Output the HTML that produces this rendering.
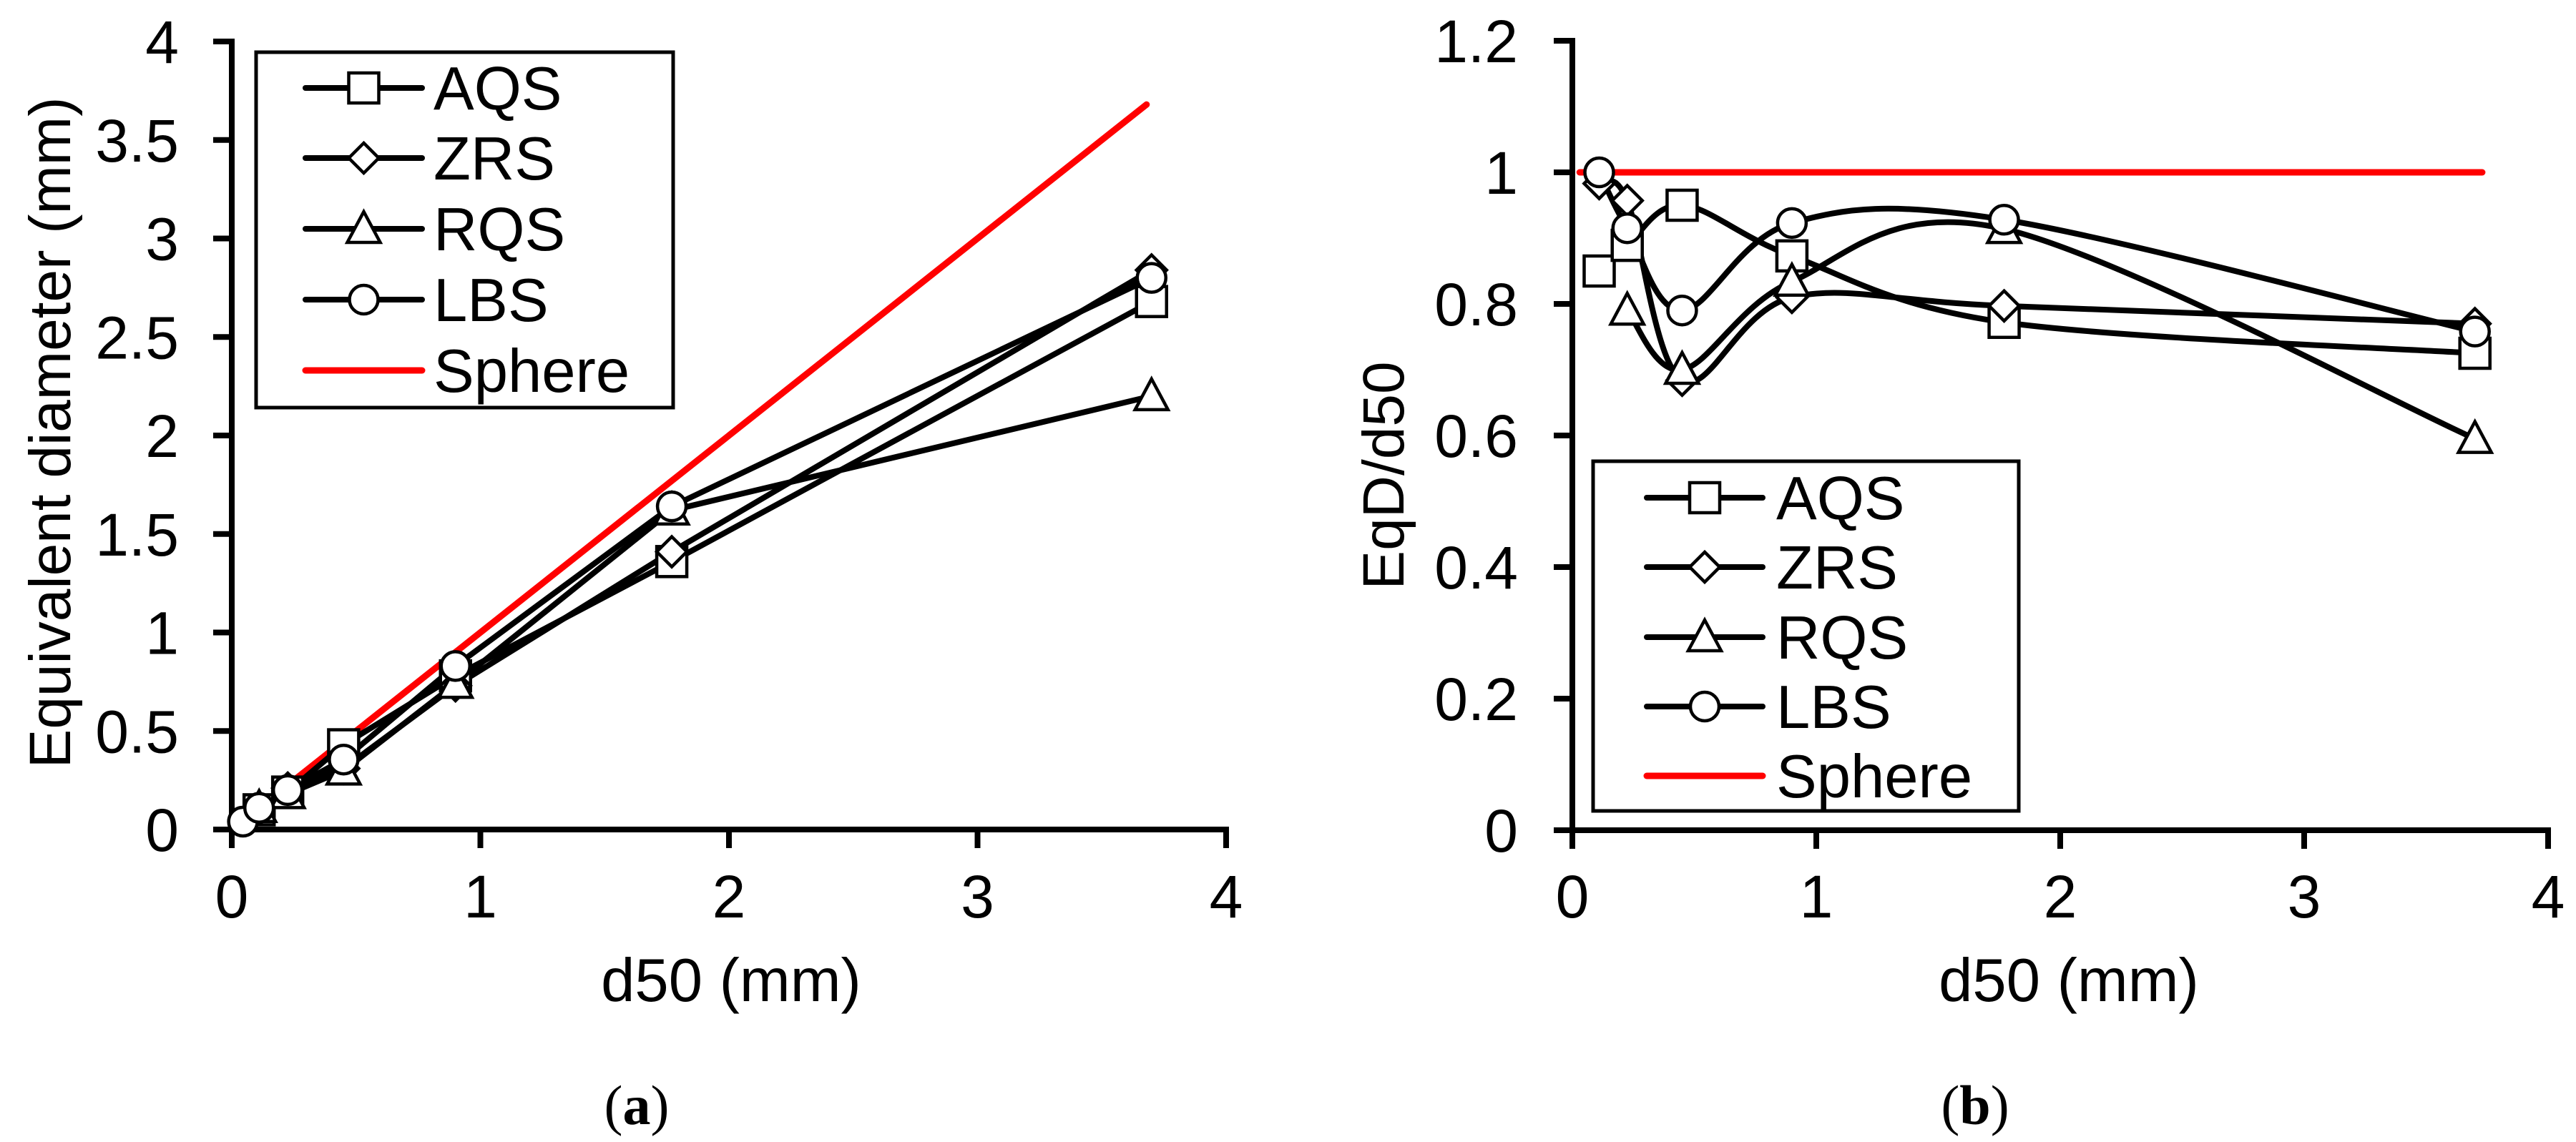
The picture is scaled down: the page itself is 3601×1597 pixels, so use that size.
<!DOCTYPE html>
<html><head><meta charset="utf-8"><style>
html,body{margin:0;padding:0;background:#fff;}
svg{display:block;font-family:"Liberation Sans",Arial,sans-serif;}
</style></head><body>
<svg id="fig" width="3601" height="1597" viewBox="0 0 3601 1597" xmlns="http://www.w3.org/2000/svg">
<rect width="3601" height="1597" fill="#fff"/>
<g id="chartA"></g>
<g id="chartB"></g>
</svg>
<script>
// ---- data (chart a) ----
const dA = [0.045, 0.11, 0.225, 0.45, 0.9, 1.77, 3.7];
const aqsA = [null, 0.1, 0.19, 0.43, 0.78, 1.36, 2.68];
const zrsA = [null, 0.11, 0.21, 0.31, 0.73, 1.41, 2.84];
const rqsA = [null, 0.11, 0.18, 0.30, 0.74, 1.62, 2.2];
const lbsA = [0.04, 0.11, 0.2, 0.355, 0.83, 1.64, 2.8];
const sphereAx = [0.045, 3.68];
const sphereAy = [0.045, 3.68];
const xTicksA = ["0","1","2","3","4"];
const yTicksA = ["0","0.5","1","1.5","2","2.5","3","3.5","4"];
// ---- data (chart b) ----
const dB = [0.11, 0.225, 0.45, 0.9, 1.77, 3.7];
const aqsB = [0.85, 0.889, 0.95, 0.873, 0.772, 0.725];
const zrsB = [0.983, 0.957, 0.684, 0.81, 0.797, 0.77];
const rqsB = [null, 0.79, 0.70, 0.834, 0.914, 0.595];
const lbsB = [1.0, 0.915, 0.79, 0.923, 0.928, 0.758];
const sphereBx = [0.03, 3.73];
const sphereBy = [1, 1];
const xTicksB = ["0","1","2","3","4"];
const yTicksB = ["0","0.2","0.4","0.6","0.8","1","1.2"];
const seriesNames = ["AQS","ZRS","RQS","LBS"];
const markers = ["square","diamond","triangle","circle"];

const NS = "http://www.w3.org/2000/svg";
function mk(parent, tag, attrs){
  const e = document.createElementNS(NS, tag);
  for (const k in attrs) e.setAttribute(k, attrs[k]);
  parent.appendChild(e); return e;
}
function marker(g, type, x, y){
  let e;
  if (type==="square") e = mk(g,"rect",{x:x-21,y:y-21,width:42,height:42});
  else if (type==="diamond") e = mk(g,"polygon",{points:`${x},${y-21} ${x+21},${y} ${x},${y+21} ${x-21},${y}`});
  else if (type==="triangle") e = mk(g,"polygon",{points:`${x},${y-24} ${x+23},${y+19} ${x-23},${y+19}`});
  else e = mk(g,"circle",{cx:x,cy:y,r:20});
  e.setAttribute("fill","#fff"); e.setAttribute("stroke","#000"); e.setAttribute("stroke-width","4.5");
  
  
  return e;
}
function smoothPath(pts){
  let d = `M${pts[0][0]},${pts[0][1]}`;
  for (let i=0;i<pts.length-1;i++){
    const p0=pts[i-1]||pts[i], p1=pts[i], p2=pts[i+1], p3=pts[i+2]||p2;
    const c1=[p1[0]+(p2[0]-p0[0])/6, p1[1]+(p2[1]-p0[1])/6];
    const c2=[p2[0]-(p3[0]-p1[0])/6, p2[1]-(p3[1]-p1[1])/6];
    d += ` C${c1[0]},${c1[1]} ${c2[0]},${c2[1]} ${p2[0]},${p2[1]}`;
  }
  return d;
}
function drawChart(cfg){
  const g = document.getElementById(cfg.id);
  const X = v => cfg.x0 + (v - cfg.xmin)/(cfg.xmax-cfg.xmin)*(cfg.x1-cfg.x0);
  const Y = v => cfg.y0 - (v - cfg.ymin)/(cfg.ymax-cfg.ymin)*(cfg.y0-cfg.y1);
  const ax = mk(g,"path",{d:`M${cfg.x0-26},${cfg.y1} H${cfg.x0} V${cfg.y0} H${cfg.x1} V${cfg.y0+26}`,fill:"none",stroke:"#000","stroke-width":8});
   
  cfg.yt.forEach((t,i)=>{
    const v = cfg.ymin + i*(cfg.ymax-cfg.ymin)/(cfg.yt.length-1);
    const tk = mk(g,"line",{x1:cfg.x0-26,x2:cfg.x0,y1:Y(v),y2:Y(v),stroke:"#000","stroke-width":8});
     
    const tx = mk(g,"text",{x:cfg.ylabR,y:Y(v)+30,"text-anchor":"end","font-size":84});
    tx.textContent = t;
     
  });
  cfg.xt.forEach((t,i)=>{
    const v = cfg.xmin + i*(cfg.xmax-cfg.xmin)/(cfg.xt.length-1);
    const tk = mk(g,"line",{x1:X(v),x2:X(v),y1:cfg.y0,y2:cfg.y0+26,stroke:"#000","stroke-width":8});
     
    const tx = mk(g,"text",{x:X(v),y:1283,"text-anchor":"middle","font-size":84});
    tx.textContent = t;
     
  });
  const sp = mk(g,"line",{x1:X(cfg.sx[0]),y1:Y(cfg.sy[0]),x2:X(cfg.sx[1]),y2:Y(cfg.sy[1]),stroke:"#f00","stroke-width":9,"stroke-linecap":"round"});
   
  cfg.series.forEach((s,si)=>{
    const pts=[]; s.forEach((v,i)=>{ if(v!==null) pts.push([X(cfg.xs[i]),Y(v)]); });
    const d = cfg.smooth ? smoothPath(pts) : "M"+pts.map(p=>p.join(",")).join(" L");
    const p = mk(g,"path",{d:d,fill:"none",stroke:"#000","stroke-width":8,"stroke-linejoin":"round"});
     
  });
  cfg.series.forEach((s,si)=>{
    s.forEach((v,i)=>{ if(v!==null) marker(g, markers[si], X(cfg.xs[i]), Y(v)); });
  });
  const L = cfg.leg;
  const lb = mk(g,"rect",{x:L.x,y:L.y,width:L.w,height:L.h,fill:"#fff",stroke:"#000","stroke-width":5});
   
  const names = seriesNames.concat(["Sphere"]);
  names.forEach((n,i)=>{
    const yy = L.rows[i];
    const ln = mk(g,"line",{x1:L.l0,x2:L.l1,y1:yy,y2:yy,stroke:i===4?"#f00":"#000","stroke-width":i===4?9:8,"stroke-linecap":"round"});
     
    if (i<4) marker(g, markers[i], (L.l0+L.l1)/2, yy);
    const t = mk(g,"text",{x:L.tx,y:yy+30,"font-size":85});
    t.textContent = n;
     
  });
  const xt = mk(g,"text",{x:cfg.xtx,y:1400,"text-anchor":"middle","font-size":85});
  xt.textContent = "d50 (mm)";
   
  const yt = mk(g,"text",{x:0,y:0,"text-anchor":"middle","font-size":cfg.ytFs,transform:`translate(${cfg.ytx},${cfg.yty}) rotate(-90)`});
  yt.textContent = cfg.ytitle;
   
  const cap = mk(g,"text",{x:cfg.capx,y:1572,"text-anchor":"middle","font-size":78,"font-family":"Liberation Serif, serif"});
  cap.innerHTML = `(<tspan font-weight="bold">${cfg.cap}</tspan>)`;
   
}
drawChart({id:"chartA",x0:324,x1:1714,y0:1160,y1:58,xmin:0,xmax:4,ymin:0,ymax:4,
  xs:dA,series:[aqsA,zrsA,rqsA,lbsA],sx:sphereAx,sy:sphereAy,smooth:false,
  xt:xTicksA,yt:yTicksA,ylabR:250,
  leg:{x:358,y:73,w:583,h:497,rows:[123,221,320,419,518],l0:427,l1:590,tx:606},
  xtx:1022,ytx:98,yty:605,ytFs:82,ytitle:"Equivalent diameter (mm)",capx:890,cap:"a"});
drawChart({id:"chartB",x0:2198,x1:3562,y0:1161,y1:57,xmin:0,xmax:4,ymin:0,ymax:1.2,
  xs:dB,series:[aqsB,zrsB,rqsB,lbsB],sx:sphereBx,sy:sphereBy,smooth:true,
  xt:xTicksB,yt:yTicksB,ylabR:2122,
  leg:{x:2227,y:645,w:595,h:489,rows:[696,793,891,988,1085],l0:2302,l1:2464,tx:2483},
  xtx:2892,ytx:1962,yty:665,ytFs:82,ytitle:"EqD/d50",capx:2761,cap:"b"});
</script>
</body></html>
